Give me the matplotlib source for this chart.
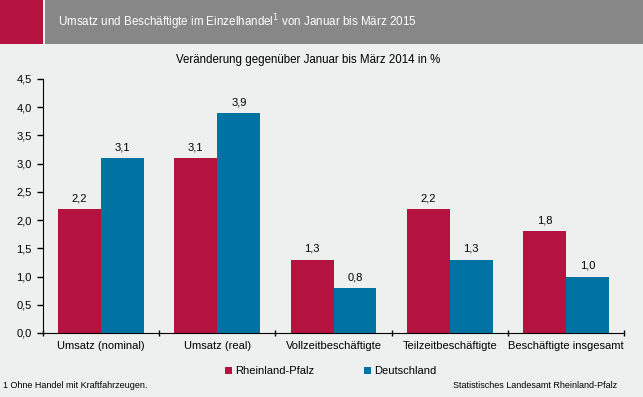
import numpy as np
import matplotlib.pyplot as plt
from matplotlib.patches import Rectangle

plt.rcParams['font.family'] = ['Liberation Sans', 'DejaVu Sans']

categories = ["Umsatz (nominal)", "Umsatz (real)", "Vollzeitbeschäftigte",
              "Teilzeitbeschäftigte", "Beschäftigte insgesamt"]
rlp = [2.2, 3.1, 1.3, 2.2, 1.8]
de = [3.1, 3.9, 0.8, 1.3, 1.0]
series_names = ["Rheinland-Pfalz", "Deutschland"]
yticks = [0.0, 0.5, 1.0, 1.5, 2.0, 2.5, 3.0, 3.5, 4.0, 4.5]

RED = "#B5133F"
BLUE = "#0073A3"
BG = "#EEF0EF"
GREY = "#878787"

W, H = 643, 397
fig = plt.figure(figsize=(W / 100, H / 100), dpi=100, facecolor=BG)

# header band
fig.patches.append(Rectangle((0, 1 - 44 / H), 43 / W, 44 / H, transform=fig.transFigure,
                             facecolor=RED, edgecolor="none"))
fig.patches.append(Rectangle((45 / W, 1 - 44 / H), 1 - 45 / W, 44 / H, transform=fig.transFigure,
                             facecolor=GREY, edgecolor="none"))
fig.text(58 / W, 1 - 22 / H, "Umsatz und Beschäftigte im Einzelhandel$^{1}$ von Januar bis März 2015",
         color="white", fontsize=8.4, va="center", ha="left")
fig.text(308 / W, 1 - 60 / H, "Veränderung gegenüber Januar bis März 2014 in %",
         fontsize=8.3, ha="center", va="center")

ax = fig.add_axes([43 / W, 1 - 333 / H, (624 - 43) / W, (333 - 79) / H])
ax.set_facecolor(BG)

x = np.arange(len(categories))
bw = 0.37
b1 = ax.bar(x - bw / 2, rlp, bw, color=RED, label=series_names[0])
b2 = ax.bar(x + bw / 2, de, bw, color=BLUE, label=series_names[1])
for bars, vals in ((b1, rlp), (b2, de)):
    for b, v in zip(bars, vals):
        ax.text(b.get_x() + b.get_width() / 2, v + 0.1, f"{v:.1f}".replace(".", ","),
                ha="center", va="bottom", fontsize=8)

ax.set_xlim(-0.5, len(categories) - 0.5)
ax.set_ylim(0, 4.5)
ax.set_yticks(yticks)
ax.set_yticklabels([f"{t:.1f}".replace(".", ",") for t in yticks], fontsize=8)
ax.set_xticks(np.arange(len(categories) + 1) - 0.5, minor=False)
ax.set_xticklabels([])
ax.set_xticks(x, minor=True)
ax.set_xticklabels(categories, minor=True, fontsize=8)
ax.tick_params(axis="x", which="minor", length=0, pad=6)
ax.tick_params(axis="x", which="major", length=4, direction="inout", width=1)
ax.tick_params(axis="y", length=4, direction="out", width=1, pad=4)
for s in ("top", "right"):
    ax.spines[s].set_visible(False)

leg = fig.legend(handles=[b1, b2], loc="center", bbox_to_anchor=(331 / W, 1 - 371 / H),
                 ncol=2, frameon=False, fontsize=8, handlelength=0.6, handleheight=0.6,
                 handletextpad=0.3, columnspacing=4.5)

fig.text(3 / W, 1 - 385 / H, "1 Ohne Handel mit Kraftfahrzeugen.", fontsize=6.5, va="center")
fig.text(617 / W, 1 - 385 / H, "Statistisches Landesamt Rheinland-Pfalz", fontsize=6.5,
         va="center", ha="right")

fig.savefig("out.png", dpi=100, facecolor=BG)
